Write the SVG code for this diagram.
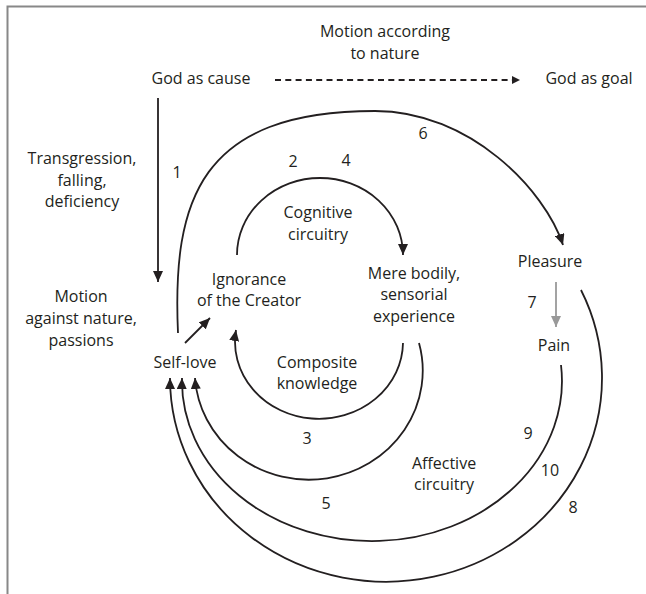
<svg xmlns="http://www.w3.org/2000/svg" width="646" height="594" viewBox="0 0 646 594">
<style>
text{font-family:"Open Sans","Noto Sans","Liberation Sans",sans-serif;font-size:16px;fill:#231f20;text-anchor:middle}
.c{fill:none;stroke:#231f20;stroke-width:1.8}
.g{fill:none;stroke:#999;stroke-width:1.8}
.d{fill:none;stroke:#231f20;stroke-width:1.8;stroke-dasharray:6,4.3}
</style>
<defs>
<marker id="ah" markerUnits="userSpaceOnUse" markerWidth="12" markerHeight="10" refX="11" refY="5" orient="auto"><path d="M0,0 L11,5 L0,10 z" fill="#231f20"/></marker>
<marker id="ahs" markerUnits="userSpaceOnUse" markerWidth="9" markerHeight="9" refX="8" refY="4" orient="auto"><path d="M0,0 L8,4 L0,8 z" fill="#231f20"/></marker>
<marker id="ahg" markerUnits="userSpaceOnUse" markerWidth="12" markerHeight="10" refX="11" refY="5" orient="auto"><path d="M0,0 L11,5 L0,10 z" fill="#999"/></marker>
</defs>
<polyline points="7.5,594 7.5,6.5 646,6.5" fill="none" stroke="#888" stroke-width="2"/>
<g id="connectors">
<path class="d" d="M275,80 L520,80" marker-end="url(#ahs)"/>
<path class="c" d="M158,98 L158,282" marker-end="url(#ah)"/>
<path class="c" d="M178,333 C172,200 200,111 375,111 C470,111 545,190 563,245" marker-end="url(#ah)"/>
<path class="c" d="M237,255 A83,77 0 0 1 403,255" marker-end="url(#ah)"/>
<path class="c" d="M403,343 A84,77 0 1 1 236,330" marker-end="url(#ah)"/>
<path class="c" d="M185,343 L210,318" marker-end="url(#ah)"/>
<path class="c" d="M419,343 A114,109 0 1 1 195,378" marker-end="url(#ah)"/>
<path class="c" d="M561,365 A190,160 0 1 1 182,378" marker-end="url(#ah)"/>
<path class="c" d="M581,290 A216,204 0 1 1 170,378" marker-end="url(#ah)"/>
<path class="g" d="M556,282 L556,327" marker-end="url(#ahg)"/>
</g>
<g id="motion-nature"><text x="385" y="37">Motion according</text><text x="385" y="59">to nature</text></g>
<g id="god-cause"><text x="201" y="84">God as cause</text></g>
<g id="god-goal"><text x="589" y="84">God as goal</text></g>
<g id="transgression"><text x="82" y="164">Transgression,</text><text x="82" y="186">falling,</text><text x="82" y="207">deficiency</text></g>
<g id="motion-against"><text x="81" y="302">Motion</text><text x="81" y="324">against nature,</text><text x="81" y="346">passions</text></g>
<g id="self-love"><text x="185" y="368">Self-love</text></g>
<g id="ignorance"><text x="249" y="285">Ignorance</text><text x="249" y="306">of the Creator</text></g>
<g id="cognitive"><text x="318" y="218">Cognitive</text><text x="318" y="240">circuitry</text></g>
<g id="bodily"><text x="414" y="279">Mere bodily,</text><text x="414" y="300">sensorial</text><text x="414" y="322">experience</text></g>
<g id="composite"><text x="317" y="368">Composite</text><text x="317" y="389">knowledge</text></g>
<g id="pleasure"><text x="550" y="267">Pleasure</text></g>
<g id="pain"><text x="554" y="351">Pain</text></g>
<g id="affective"><text x="444" y="469">Affective</text><text x="444" y="490">circuitry</text></g>
<g id="numbers">
<text x="177" y="178">1</text><text x="293" y="167">2</text><text x="307" y="444">3</text><text x="346" y="166">4</text><text x="326" y="509">5</text><text x="423" y="139">6</text><text x="532" y="308">7</text><text x="573" y="513">8</text><text x="528" y="439">9</text><text x="550" y="476">10</text>
</g>
</svg>
